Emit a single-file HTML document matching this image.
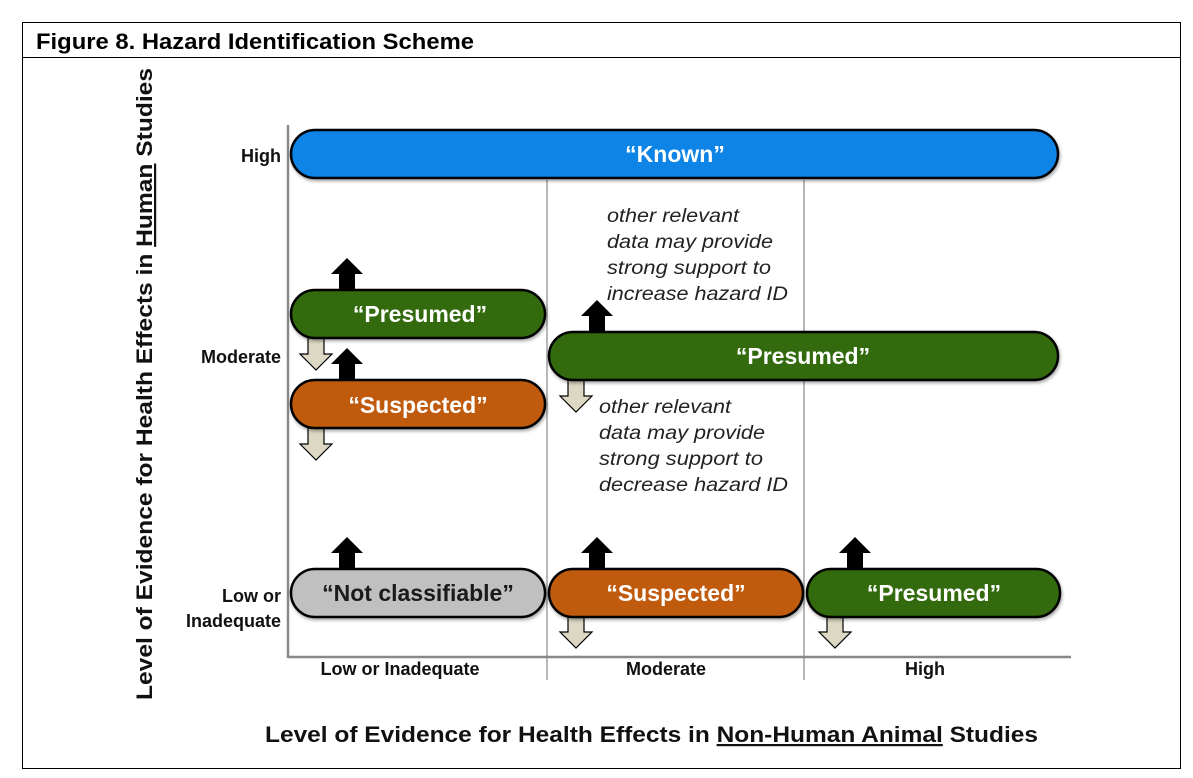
<!DOCTYPE html>
<html><head><meta charset="utf-8"><style>
html,body{margin:0;padding:0;background:#fff;width:1193px;height:778px;overflow:hidden}
svg{display:block}
</style></head><body>
<svg width="1193" height="778" viewBox="0 0 1193 778" xmlns="http://www.w3.org/2000/svg" font-family="Liberation Sans, Arial, sans-serif">
<defs>
<filter id="sh" x="-5%" y="-20%" width="110%" height="150%"><feDropShadow dx="1" dy="2" stdDeviation="1.5" flood-opacity="0.35"/></filter>
</defs>
<rect x="22.5" y="22.5" width="1158" height="746" fill="#fff" stroke="#000" stroke-width="1"/>
<line x1="22" y1="57.5" x2="1181" y2="57.5" stroke="#000"/>
<text x="36" y="49" font-weight="bold" font-size="22" fill="#000" textLength="438" lengthAdjust="spacingAndGlyphs">Figure 8. Hazard Identification Scheme</text>

<line x1="547" y1="180" x2="547" y2="680" stroke="#888" stroke-width="1.2"/>
<line x1="804" y1="180" x2="804" y2="680" stroke="#888" stroke-width="1.2"/>
<line x1="288" y1="125" x2="288" y2="658" stroke="#888" stroke-width="2.5"/>
<line x1="288" y1="657" x2="1071" y2="657" stroke="#888" stroke-width="2.5"/>

<g fill="#000">
<path d="M339,290 V274 H331 L347,258 L363,274 H355 V290Z"/>
<path d="M339,380 V364 H331 L347,348 L363,364 H355 V380Z"/>
<path d="M589,332 V316 H581 L597,300 L613,316 H605 V332Z"/>
<path d="M339,569 V553 H331 L347,537 L363,553 H355 V569Z"/>
<path d="M589,569 V553 H581 L597,537 L613,553 H605 V569Z"/>
<path d="M847,569 V553 H839 L855,537 L871,553 H863 V569Z"/>
</g>
<g fill="#ddd8c4" stroke="#000" stroke-width="1.2">
<path d="M308,338 V354 H300 L316,370 L332,354 H324 V338Z"/>
<path d="M308,428 V444 H300 L316,460 L332,444 H324 V428Z"/>
<path d="M568,380 V396 H560 L576,412 L592,396 H584 V380Z"/>
<path d="M568,617 V632 H560 L576,648 L592,632 H584 V617Z"/>
<path d="M827,617 V632 H819 L835,648 L851,632 H843 V617Z"/>
</g>

<g stroke="#000" stroke-width="2.5" filter="url(#sh)">
<rect x="291" y="130" width="767" height="48" rx="24" fill="#0a84e6"/>
<rect x="291" y="290" width="254" height="48" rx="24" fill="#306b0a"/>
<rect x="291" y="380" width="254" height="48" rx="24" fill="#c05a10"/>
<rect x="549" y="332" width="509" height="48" rx="24" fill="#306b0a"/>
<rect x="291" y="569" width="254" height="48" rx="24" fill="#c0c0c0"/>
<rect x="549" y="569" width="254" height="48" rx="24" fill="#c05a10"/>
<rect x="807" y="569" width="253" height="48" rx="24" fill="#306b0a"/>
</g>
<g font-weight="bold" font-size="23" fill="#fff" text-anchor="middle">
<text x="675" y="162">“Known”</text>
<text x="420" y="322">“Presumed”</text>
<text x="418" y="413">“Suspected”</text>
<text x="803" y="364">“Presumed”</text>
<text x="418" y="601" fill="#1a1a1a">“Not classifiable”</text>
<text x="676" y="601">“Suspected”</text>
<text x="934" y="601">“Presumed”</text>
</g>

<g font-style="italic" font-size="19" fill="#222" lengthAdjust="spacingAndGlyphs">
<text x="607" y="222" textLength="132" lengthAdjust="spacingAndGlyphs">other relevant</text>
<text x="607" y="248" textLength="166" lengthAdjust="spacingAndGlyphs">data may provide</text>
<text x="607" y="274" textLength="164" lengthAdjust="spacingAndGlyphs">strong support to</text>
<text x="607" y="300" textLength="181" lengthAdjust="spacingAndGlyphs">increase hazard ID</text>
<text x="599" y="413" textLength="132" lengthAdjust="spacingAndGlyphs">other relevant</text>
<text x="599" y="439" textLength="166" lengthAdjust="spacingAndGlyphs">data may provide</text>
<text x="599" y="465" textLength="164" lengthAdjust="spacingAndGlyphs">strong support to</text>
<text x="599" y="491" textLength="189" lengthAdjust="spacingAndGlyphs">decrease hazard ID</text>
</g>

<g font-weight="bold" font-size="18" fill="#111" text-anchor="end">
<text x="281" y="162">High</text>
<text x="281" y="363">Moderate</text>
<text x="281" y="602">Low or</text>
<text x="281" y="627">Inadequate</text>
</g>
<g font-weight="bold" font-size="18" fill="#111" text-anchor="middle">
<text x="400" y="675">Low or Inadequate</text>
<text x="666" y="675">Moderate</text>
<text x="925" y="675">High</text>
</g>

<text x="265" y="742" font-weight="bold" font-size="22" fill="#111" textLength="773" lengthAdjust="spacingAndGlyphs">Level of Evidence for Health Effects in <tspan text-decoration="underline">Non-Human Animal</tspan> Studies</text>
<text transform="translate(152,700) rotate(-90)" font-weight="bold" font-size="22" fill="#111" textLength="632" lengthAdjust="spacingAndGlyphs">Level of Evidence for Health Effects in <tspan text-decoration="underline">Human</tspan> Studies</text>
</svg>
</body></html>
